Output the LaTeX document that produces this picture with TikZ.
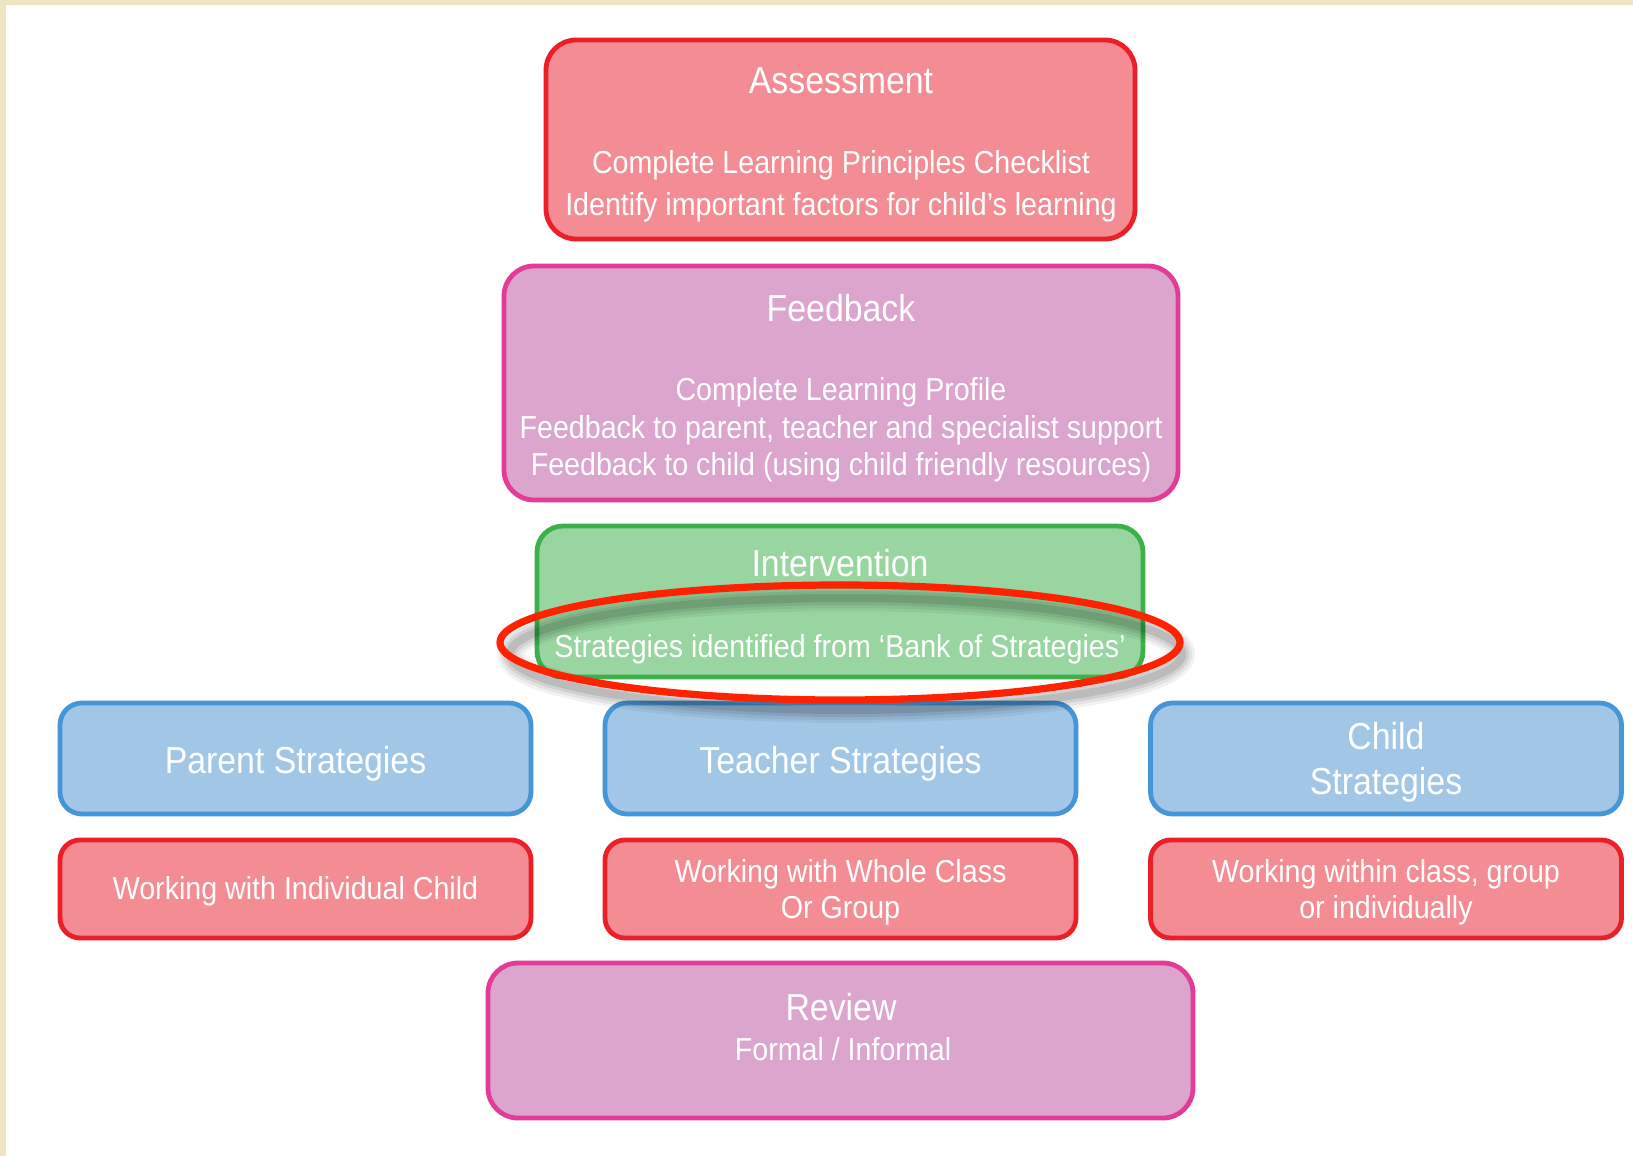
\documentclass[tikz,border=0pt]{standalone}
\usepackage{fontspec}
\setmainfont{Liberation Sans}[FakeStretch=0.9]
\usetikzlibrary{shapes.geometric}
\definecolor{pinkfill}{HTML}{F48C94}
\definecolor{reddraw}{HTML}{EA1F28}
\definecolor{purplefill}{HTML}{DBA5CE}
\definecolor{purpledraw}{HTML}{E23C98}
\definecolor{greenfill}{HTML}{98D5A0}
\definecolor{greendraw}{HTML}{3DB04B}
\definecolor{bluefill}{HTML}{A2C7E6}
\definecolor{bluedraw}{HTML}{4596D6}
\definecolor{ovalred}{HTML}{FF2200}
\definecolor{beige}{HTML}{EEE6C3}
\begin{document}
\begin{tikzpicture}[x=0.5pt,y=-0.5pt,
  stage/.style={rectangle, rounded corners=15pt, line width=2.4pt, inner sep=0pt},
  redbox/.style={stage, fill=pinkfill, draw=reddraw},
  purplebox/.style={stage, fill=purplefill, draw=purpledraw},
  greenbox/.style={stage, fill=greenfill, draw=greendraw},
  bluebox/.style={stage, rounded corners=11pt, fill=bluefill, draw=bluedraw, minimum width=235.5pt, minimum height=55.5pt},
  workbox/.style={stage, rounded corners=10pt, fill=pinkfill, draw=reddraw, minimum width=235.5pt, minimum height=49pt},
  title/.style={text=white, inner sep=0pt, align=center, font=\fontsize{18.8}{22.5}\selectfont},
  body/.style={text=white, inner sep=0pt, align=center, font=\fontsize{15.9}{20}\selectfont},
  shadowring/.style={ellipse, draw=black, minimum width=336pt, minimum height=56pt, inner sep=0pt}
]
\useasboundingbox (0,0) rectangle (1633,1156);
\fill[beige] (0,0) rectangle (1633,1156);
\fill[white] (6,5) rectangle (1633,1156);

% stage boxes
\node (assess) [redbox, minimum width=294.5pt, minimum height=99.5pt] at (840.5,139.5) {};
\node (feed) [purplebox, minimum width=337pt, minimum height=117pt] at (841,383) {};
\node (interv) [greenbox, rounded corners=13pt, minimum width=303pt, minimum height=75.5pt] at (840,601.5) {};
\node (parent) [bluebox] at (295.5,758.5) {};
\node (teacher) [bluebox] at (840.5,758.5) {};
\node (child) [bluebox] at (1386,758.5) {};
\node (wparent) [workbox] at (295.5,889) {};
\node (wteacher) [workbox] at (840.5,889) {};
\node (wchild) [workbox] at (1386,889) {};
\node (review) [purplebox, minimum width=352.5pt, minimum height=77.5pt] at (840.5,1040.5) {};

% texts
\node (assessT) [title] at (841,81) {Assessment};
\node (assessB) [body, font=\fontsize{15.9}{21}\selectfont] at (841,186) {Complete Learning Principles Checklist\\Identify important factors for child’s learning};
\node (feedT) [title] at (841,308) {Feedback};
\node (feedB) [body, font=\fontsize{15.9}{18.75}\selectfont] at (841,430) {Complete Learning Profile\\Feedback to parent, teacher and specialist support\\Feedback to child (using child friendly resources)};
\node (intervT) [title] at (840,563) {Intervention};

% highlight oval with soft shadow
\foreach \w/\o [count=\i] in {13/0.05, 10/0.06, 7/0.08, 4/0.1}
  \node (shadow\i) [shadowring, line width=\w pt, draw opacity=\o] at (846,654) {};
\node (oval) [ellipse, draw=ovalred, line width=3.6pt, minimum width=340pt, minimum height=57.5pt, inner sep=0pt] at (840,642.5) {};
\node (intervB) [body] at (840,649) {Strategies identified from ‘Bank of Strategies’};

\node (parentT) [title] at (295.5,764) {Parent Strategies};
\node (teacherT) [title] at (840.5,764) {Teacher Strategies};
\node (childT) [title] at (1386,762.5) {Child\\Strategies};
\node (wparentT) [body] at (295.5,891) {Working with Individual Child};
\node (wteacherT) [body, font=\fontsize{15.9}{18}\selectfont] at (840.5,892.5) {Working with Whole Class\\Or Group};
\node (wchildT) [body, font=\fontsize{15.9}{18}\selectfont] at (1386,892.5) {Working within class, group\\or individually};
\node (reviewT) [title] at (841,1007) {Review};
\node (reviewB) [body] at (843,1049) {Formal / Informal};
\end{tikzpicture}
\end{document}
